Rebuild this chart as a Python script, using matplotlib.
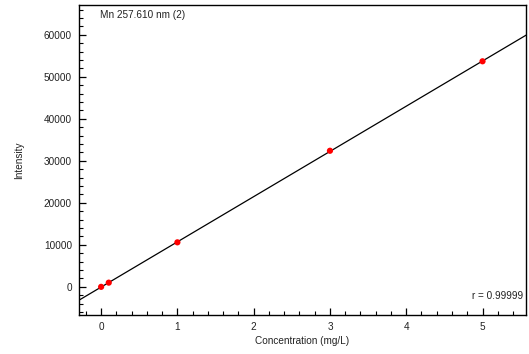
import matplotlib
matplotlib.use("Agg")
import matplotlib.pyplot as plt
import numpy as np
from matplotlib.ticker import MultipleLocator

plt.rcParams['font.family'] = ['Liberation Sans', 'DejaVu Sans']

conc = [0.0, 0.1, 1.0, 3.0, 5.0]
intensity = [0, 1000, 10600, 32400, 53700]
title = "Mn 257.610 nm (2)"
r_text = "r = 0.99999"

slope, intercept = np.polyfit(conc, intensity, 1)

FS = 7.2
TC = '#222222'
fig = plt.figure(figsize=(5.29, 3.54), dpi=100)
ax = fig.add_axes([79/529, 1-315/354, (526-79)/529, (315-5)/354])
xlim = (-0.29, 5.57)
xs = np.array(xlim)
ax.plot(xs, slope*xs + intercept, color='black', lw=0.9, zorder=2)
ax.scatter(conc, intensity, s=20, color='red', edgecolors='none', zorder=3)
ax.set_xlim(*xlim)
ax.set_ylim(-6700, 67100)
ax.xaxis.set_major_locator(MultipleLocator(1))
ax.xaxis.set_minor_locator(MultipleLocator(0.2))
ax.yaxis.set_major_locator(MultipleLocator(10000))
ax.yaxis.set_minor_locator(MultipleLocator(2000))
ax.tick_params(which='both', direction='in', labelsize=FS, top=False, right=False, labelcolor=TC)
ax.tick_params(which='major', length=5, width=0.9, pad=5)
ax.tick_params(which='minor', length=3, width=0.8)
for s in ax.spines.values():
    s.set_linewidth(1.0)
ax.set_xlabel("Concentration (mg/L)", fontsize=FS, labelpad=3, color=TC)
ax.set_ylabel("Intensity", fontsize=FS, labelpad=14, color=TC)
ax.text(0.047, 0.985, title, transform=ax.transAxes, fontsize=FS, va='top', ha='left', color=TC)
ax.text(0.994, 0.062, r_text, transform=ax.transAxes, fontsize=FS, va='center', ha='right', color=TC)
fig.savefig("out.png", dpi=100)
